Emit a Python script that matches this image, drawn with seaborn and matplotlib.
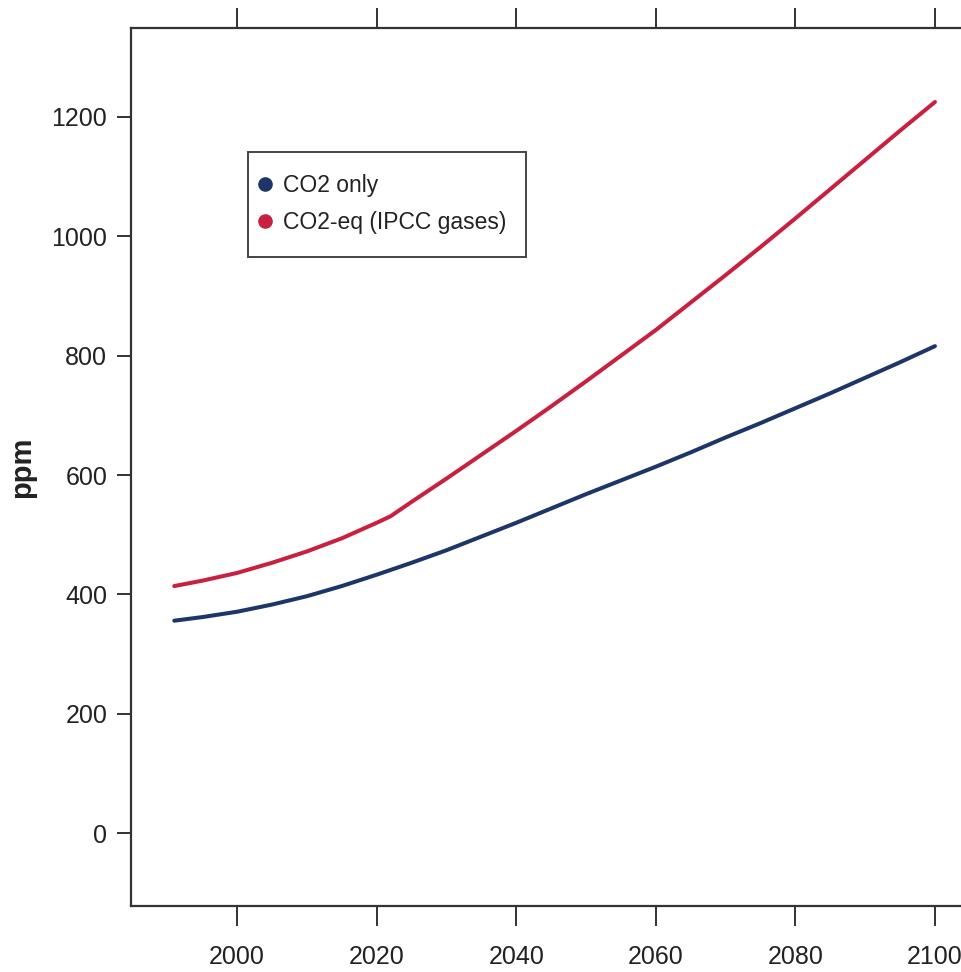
import matplotlib
matplotlib.use("Agg")
import matplotlib.pyplot as plt
from matplotlib.lines import Line2D
from matplotlib.patches import Rectangle
import seaborn as sns
import pandas as pd

# Atmospheric concentration pathways (ppm)
years_co2 = [1991, 1995, 2000, 2005, 2010, 2015, 2020, 2025, 2030, 2035, 2040,
             2045, 2050, 2055, 2060, 2065, 2070, 2075, 2080, 2085, 2090, 2095, 2100]
co2_only = [356, 362, 371, 383, 397, 414, 433, 453, 474, 497, 520,
            544, 568, 591, 614, 638, 663, 687, 712, 737, 763, 789, 816]
years_eq = [1991, 1995, 2000, 2005, 2010, 2015, 2020, 2022, 2025, 2030, 2035, 2040,
            2045, 2050, 2055, 2060, 2065, 2070, 2075, 2080, 2085, 2090, 2095, 2100]
co2_eq = [414, 423, 436, 453, 472, 494, 520, 531, 555, 594, 634, 674,
          715, 757, 800, 843, 889, 935, 982, 1030, 1079, 1128, 1177, 1225]
series_names = ["CO2 only", "CO2-eq (IPCC gases)"]
x_ticks = [2000, 2020, 2040, 2060, 2080, 2100]
y_ticks = [0, 200, 400, 600, 800, 1000, 1200]

colors = {"CO2 only": "#1d3569", "CO2-eq (IPCC gases)": "#c8203f"}

df = pd.concat([
    pd.DataFrame({"year": years_co2, "ppm": co2_only, "series": series_names[0]}),
    pd.DataFrame({"year": years_eq, "ppm": co2_eq, "series": series_names[1]}),
])

sns.set_theme(style="white")
plt.rcParams["font.family"] = ["Liberation Sans", "DejaVu Sans"]

fig = plt.figure(figsize=(9.61, 9.72), dpi=100)
ax = fig.add_axes([0.1363, 0.0679, 0.878, 0.9033])

sns.lineplot(data=df, x="year", y="ppm", hue="series", palette=colors,
             linewidth=2.9, ax=ax, legend=False, estimator=None, sort=True)
for ln in ax.get_lines():
    ln.set_solid_capstyle("round")
    ln.set_solid_joinstyle("round")

ax.set_xlim(1984.8, 2105.7)
ax.set_ylim(-122, 1349)
ax.set_xticks(x_ticks)
ax.set_yticks(y_ticks)
ax.set_xticklabels([str(t) for t in x_ticks])
ax.set_yticklabels([str(t) for t in y_ticks])

spine_col = "#333333"
for s in ax.spines.values():
    s.set_color(spine_col)
    s.set_linewidth(1.6)
ax.spines["right"].set_visible(False)

ax.tick_params(axis="x", which="both", direction="out", length=14.4, width=1.4,
               color=spine_col, top=True, bottom=True, labeltop=False,
               labelbottom=True, pad=14, labelsize=18, labelcolor="#222222")
ax.tick_params(axis="y", which="both", direction="out", length=10, width=1.4,
               color=spine_col, left=True, right=False, pad=7,
               labelsize=18, labelcolor="#222222")

ax.set_xlabel("")
ax.set_ylabel("ppm", fontsize=21, fontweight="bold", color="#222222")
ax.yaxis.set_label_coords(-0.112, 0.5)

# Legend entries with round markers, inside a plain rectangular box
handles = [Line2D([], [], marker="o", linestyle="none", markersize=9.5,
                  color=colors[n]) for n in series_names]
leg = ax.legend(handles, series_names, loc="center left",
                bbox_to_anchor=(0.1466, 0.7995), borderaxespad=0,
                frameon=False, fontsize=16.5, borderpad=0,
                handletextpad=0.34, handlelength=0.9, labelspacing=0.62)
for t in leg.get_texts():
    t.set_color("#222222")

box = Rectangle((0.1386, 0.7392), 0.3294, 0.1196, transform=ax.transAxes,
                facecolor="white", edgecolor="#444444", linewidth=1.4,
                zorder=4)
ax.add_patch(box)
leg.set_zorder(5)

fig.savefig("out.png", dpi=100, facecolor="white")
